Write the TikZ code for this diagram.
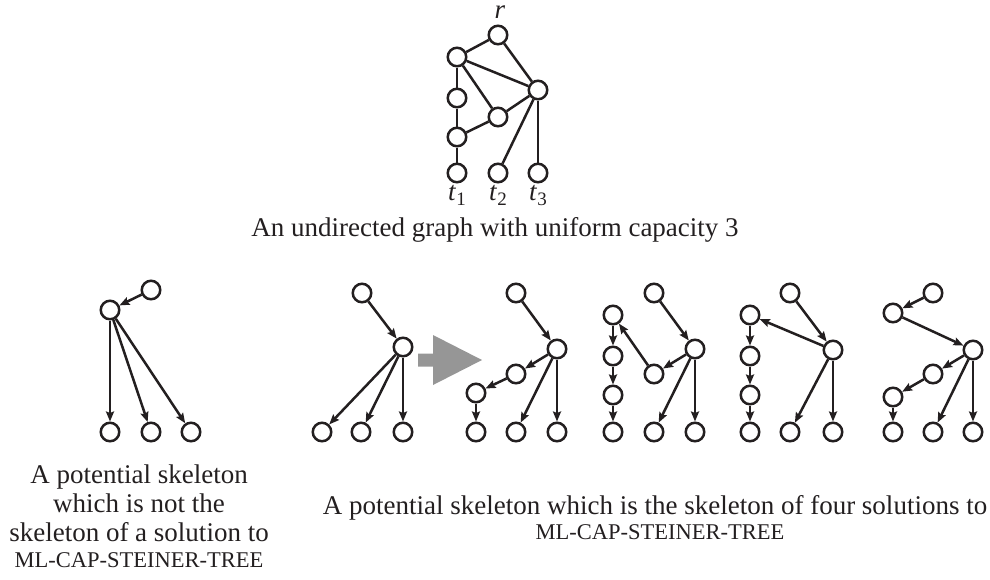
\documentclass[tikz,border=0pt]{standalone}
\usepackage{fontspec}
\setmainfont{Liberation Serif}
\usetikzlibrary{arrows.meta}
\definecolor{ink}{RGB}{35,31,32}
\definecolor{arrowgray}{RGB}{150,150,150}
\tikzset{
  v/.style={circle, draw=ink, line width=2.5pt, minimum size=18.5pt, inner sep=0pt},
  ed/.style={draw=ink, line width=2.5pt},
  arr/.style={ed, -{Stealth[length=10pt,width=8pt,inset=1.5pt]}},
  lbl/.style={inner sep=0pt, anchor=base, text=ink, font=\fontsize{27}{32}\selectfont},
  sclbl/.style={inner sep=0pt, anchor=base, text=ink, font=\fontsize{22.5}{26}\selectfont}
}
\begin{document}
\begin{tikzpicture}[x=1pt,y=-1pt]
\useasboundingbox (0,0) rectangle (990,579);
% ---------- top undirected graph ----------
\node[v] (r) at (498,35) {};
\node[v] (a) at (457,57) {};
\node[v] (b) at (538,90) {};
\node[v] (c) at (457,98) {};
\node[v] (d) at (498,117) {};
\node[v] (e) at (457,137) {};
\node[v] (t1) at (457,173) {};
\node[v] (t2) at (498,173) {};
\node[v] (t3) at (538,173) {};
\draw[ed] (r) -- (a);
\draw[ed] (r) -- (b);
\draw[ed] (a) -- (b);
\draw[ed] (a) -- (c);
\draw[ed] (a) -- (d);
\draw[ed] (c) -- (e);
\draw[ed] (e) -- (d);
\draw[ed] (d) -- (b);
\draw[ed] (e) -- (t1);
\draw[ed] (b) -- (t2);
\draw[ed] (b) -- (t3);
\node[lbl] (lr) at (500,18) {\textit{r}};
\node[lbl] (lt1) at (457,200) {\textit{t}\raisebox{-5pt}{\fontsize{19}{19}\selectfont 1}};
\node[lbl] (lt2) at (498,200) {\textit{t}\raisebox{-5pt}{\fontsize{19}{19}\selectfont 2}};
\node[lbl] (lt3) at (538,200) {\textit{t}\raisebox{-5pt}{\fontsize{19}{19}\selectfont 3}};
\node[lbl] (cap0) at (495,236) {An undirected graph with uniform capacity 3};
% ---------- group 1 ----------
\node[v] (p1) at (151,290) {};
\node[v] (h1) at (110,310) {};
\node[v] (l11) at (110,432) {};
\node[v] (l12) at (151,432) {};
\node[v] (l13) at (191,432) {};
\draw[arr] (p1) -- (h1);
\draw[arr] (h1) -- (l11);
\draw[arr] (h1) -- (l12);
\draw[arr] (h1) -- (l13);
% ---------- group 2 ----------
\node[v] (p2) at (362,293) {};
\node[v] (h2) at (403,347) {};
\node[v] (l21) at (322,432) {};
\node[v] (l22) at (361,432) {};
\node[v] (l23) at (403,432) {};
\draw[arr] (p2) -- (h2);
\draw[arr] (h2) -- (l21);
\draw[arr] (h2) -- (l22);
\draw[arr] (h2) -- (l23);
% ---------- big gray arrow ----------
\fill[arrowgray] (418,353.5) -- (433,353.5) -- (433,335) -- (482,360) -- (433,385) -- (433,366.5) -- (418,366.5) -- cycle;
% ---------- group 3 ----------
\node[v] (p3) at (516,293) {};
\node[v] (h3) at (557,349) {};
\node[v] (m31) at (516,374) {};
\node[v] (m32) at (476,393) {};
\node[v] (l31) at (476,432) {};
\node[v] (l32) at (516,432) {};
\node[v] (l33) at (557,432) {};
\draw[arr] (p3) -- (h3);
\draw[arr] (h3) -- (m31);
\draw[arr] (m31) -- (m32);
\draw[arr] (m32) -- (l31);
\draw[arr] (h3) -- (l32);
\draw[arr] (h3) -- (l33);
% ---------- group 4 ----------
\node[v] (c41) at (613,315) {};
\node[v] (c42) at (613,356) {};
\node[v] (c43) at (613,395) {};
\node[v] (l41) at (613,432) {};
\node[v] (p4) at (654,293) {};
\node[v] (h4) at (695,349) {};
\node[v] (m4) at (654,374) {};
\node[v] (l42) at (654,432) {};
\node[v] (l43) at (695,432) {};
\draw[arr] (p4) -- (h4);
\draw[arr] (h4) -- (m4);
\draw[arr] (m4) -- (c41);
\draw[arr] (c41) -- (c42);
\draw[arr] (c42) -- (c43);
\draw[arr] (c43) -- (l41);
\draw[arr] (h4) -- (l42);
\draw[arr] (h4) -- (l43);
% ---------- group 5 ----------
\node[v] (c51) at (750,315) {};
\node[v] (c52) at (750,356) {};
\node[v] (c53) at (750,395) {};
\node[v] (l51) at (750,432) {};
\node[v] (p5) at (790,293) {};
\node[v] (h5) at (833,350) {};
\node[v] (l52) at (790,432) {};
\node[v] (l53) at (833,432) {};
\draw[arr] (p5) -- (h5);
\draw[arr] (h5) -- (c51);
\draw[arr] (c51) -- (c52);
\draw[arr] (c52) -- (c53);
\draw[arr] (c53) -- (l51);
\draw[arr] (h5) -- (l52);
\draw[arr] (h5) -- (l53);
% ---------- group 6 ----------
\node[v] (q6) at (933,293) {};
\node[v] (p6) at (893,313) {};
\node[v] (h6) at (973,350) {};
\node[v] (m61) at (933,374) {};
\node[v] (m62) at (893,397) {};
\node[v] (l61) at (893,432) {};
\node[v] (l62) at (933,432) {};
\node[v] (l63) at (973,432) {};
\draw[arr] (q6) -- (p6);
\draw[arr] (p6) -- (h6);
\draw[arr] (h6) -- (m61);
\draw[arr] (m61) -- (m62);
\draw[arr] (m62) -- (l61);
\draw[arr] (h6) -- (l62);
\draw[arr] (h6) -- (l63);
% ---------- captions ----------
\node[lbl] (capl1) at (139,483) {A potential skeleton};
\node[lbl] (capl2) at (139,512) {which is not the};
\node[lbl] (capl3) at (139,541) {skeleton of a solution to};
\node[sclbl] (capl4) at (139,567) {ML-CAP-STEINER-TREE};
\node[lbl] (capr1) at (655,514) {A potential skeleton which is the skeleton of four solutions to};
\node[sclbl] (capr2) at (660,539) {ML-CAP-STEINER-TREE};
\end{tikzpicture}
\end{document}
